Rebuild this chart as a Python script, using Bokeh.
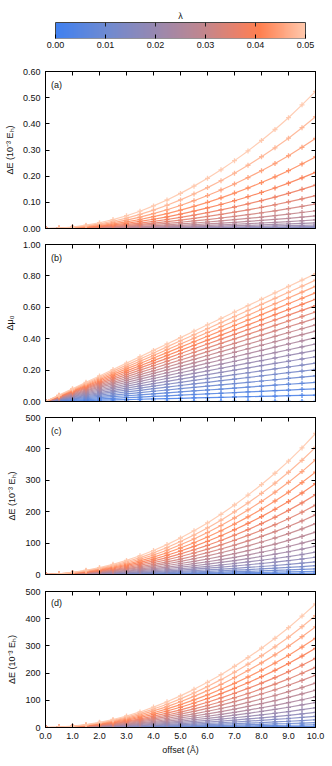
import numpy as np
from bokeh.plotting import figure
from bokeh.layouts import column
from bokeh.models import (Range1d, LinearAxis, FixedTicker, PrintfTickFormatter,
                          LinearColorMapper, Label, ColumnDataSource)
from bokeh.embed import file_html
from bokeh.resources import INLINE

# ---------------- data ----------------
lam = [0.0000, 0.0025, 0.0050, 0.0075, 0.0100, 0.0125, 0.0150, 0.0175, 0.0200, 0.0225,
       0.0250, 0.0275, 0.0300, 0.0325, 0.0350, 0.0375, 0.0400, 0.0425, 0.0450, 0.0475, 0.0500]
offset = [0.0, 0.5, 1.0, 1.5, 2.0, 2.5, 3.0, 3.5, 4.0, 4.5, 5.0,
          5.5, 6.0, 6.5, 7.0, 7.5, 8.0, 8.5, 9.0, 9.5, 10.0]

# value at offset 10 for each lambda, per panel
end_a = [0.0000, 0.0000, 0.0001, 0.0003, 0.0008, 0.0020, 0.0042, 0.0079, 0.0134, 0.0215, 0.0328,
         0.0480, 0.0679, 0.0936, 0.1258, 0.1658, 0.2146, 0.2735, 0.3440, 0.4270, 0.5240]
end_b = [0.000, 0.041, 0.081, 0.122, 0.163, 0.204, 0.244, 0.285, 0.326, 0.366, 0.407,
         0.448, 0.488, 0.529, 0.570, 0.611, 0.651, 0.692, 0.733, 0.773, 0.814]
end_c = [0.0, 1.1, 4.5, 10.1, 18.0, 28.0, 40.0, 55.0, 71.0, 90.0, 111.0,
         135.0, 162.0, 190.0, 221.0, 254.0, 289.0, 326.0, 365.0, 405.0, 449.0]
end_d = [0.0, 1.1, 4.5, 10.2, 18.2, 28.4, 41.0, 55.5, 72.5, 92.0, 113.0,
         137.0, 163.0, 192.0, 221.0, 254.0, 291.0, 328.0, 370.0, 411.0, 454.0]

# relative shape along the offset axis (fraction of the value at offset 10)
shape_a = [0.000, 0.003, 0.011, 0.024, 0.042, 0.065, 0.093, 0.126, 0.165, 0.208, 0.256,
           0.309, 0.366, 0.428, 0.495, 0.566, 0.642, 0.722, 0.808, 0.902, 1.000]
shape_b = [0.00, 0.05, 0.10, 0.15, 0.20, 0.25, 0.30, 0.35, 0.40, 0.45, 0.50,
           0.55, 0.60, 0.65, 0.70, 0.75, 0.80, 0.85, 0.90, 0.95, 1.00]
shape_c = [0.000, 0.005, 0.015, 0.030, 0.049, 0.072, 0.100, 0.133, 0.170, 0.212, 0.259,
           0.310, 0.366, 0.427, 0.493, 0.563, 0.638, 0.718, 0.804, 0.898, 1.000]
shape_d = [0.000, 0.003, 0.011, 0.024, 0.042, 0.065, 0.093, 0.126, 0.165, 0.208, 0.256,
           0.309, 0.366, 0.428, 0.495, 0.566, 0.642, 0.722, 0.808, 0.902, 1.000]

cb_ticks = [0.00, 0.01, 0.02, 0.03, 0.04, 0.05]
x_ticks = [0, 1, 2, 3, 4, 5, 6, 7, 8, 9, 10]

# ---------------- colours ----------------
anchors_t = [0.0, 0.2, 0.4, 0.6, 0.75, 0.82, 1.0]
anchors_c = [(64, 128, 240), (110, 138, 210), (152, 136, 176), (196, 134, 140),
             (240, 128, 100), (255, 128, 80), (255, 200, 172)]


def cmap(t):
    t = min(max(t, 0.0), 1.0)
    r = np.interp(t, anchors_t, [c[0] for c in anchors_c])
    g = np.interp(t, anchors_t, [c[1] for c in anchors_c])
    b = np.interp(t, anchors_t, [c[2] for c in anchors_c])
    return "#%02x%02x%02x" % (int(round(r)), int(round(g)), int(round(b)))


palette = [cmap(i / 255) for i in range(256)]
LMAX = 0.05
FONT = "Liberation Sans"
FS = "9px"
TXT = "#111111"


def style_axis(ax, ticker, fmt=None, labels=True):
    ax.ticker = FixedTicker(ticks=ticker)
    if fmt is not None:
        ax.formatter = PrintfTickFormatter(format=fmt)
    ax.axis_line_color = "black"
    ax.major_tick_line_color = "black"
    ax.major_tick_in = 4
    ax.major_tick_out = 0
    ax.minor_tick_line_color = None
    ax.major_label_text_font = FONT
    ax.major_label_text_color = TXT
    ax.axis_label_text_font = FONT
    ax.axis_label_text_font_style = "normal"
    ax.axis_label_text_font_size = FS
    ax.axis_label_text_color = TXT
    if labels:
        ax.major_label_text_font_size = FS
        ax.major_label_standoff = 5
    else:
        ax.major_label_text_font_size = "0px"
        ax.major_label_text_color = None
        ax.major_label_standoff = 0


LEFT, RIGHT = 45, 17

# ---------------- colour bar figure ----------------
pad = 0.002  # frame extends 10 px on each side of the 250 px bar
cbf = figure(frame_width=270, frame_height=26, x_range=Range1d(-pad, LMAX + pad),
             y_range=Range1d(0, 1.625), output_backend="svg", toolbar_location=None,
             min_border_left=LEFT, min_border_right=RIGHT, min_border_top=12,
             min_border_bottom=24, y_axis_location=None)
cbf.grid.visible = False
cbf.outline_line_color = None
cbf.background_fill_color = "white"
cbf.border_fill_color = "white"
mapper = LinearColorMapper(palette=palette, low=0, high=LMAX)
grad = np.linspace(0, LMAX, 256).reshape(1, -1)
cbf.image(image=[grad], x=0, y=0, dw=LMAX, dh=1, color_mapper=mapper)
cbf.quad(left=0, right=LMAX, bottom=0, top=1, fill_color=None, line_color="#444444",
         line_width=1)
cbf.segment(x0=cb_ticks[1:-1], y0=[1] * 4, x1=cb_ticks[1:-1], y1=[0.75] * 4,
            line_color="#222222", line_width=1)
style_axis(cbf.xaxis[0], cb_ticks, "%.2f")
cbf.xaxis[0].axis_line_color = None
cbf.xaxis[0].major_label_standoff = 3
cbf.add_layout(Label(x=LMAX / 2, y=1.38, text="λ", text_align="center",
                     text_baseline="middle", text_font=FONT, text_font_size=FS,
                     text_color=TXT))


# ---------------- panels ----------------
def panel(ends, shape, ymax, yticks, yfmt, ylabel, tag, frame_h, top, bottom, last):
    p = figure(frame_width=270, frame_height=frame_h, x_range=Range1d(0, 10),
               y_range=Range1d(0, ymax), output_backend="svg", toolbar_location=None,
               min_border_left=LEFT, min_border_right=RIGHT, min_border_top=top,
               min_border_bottom=bottom)
    p.grid.visible = False
    p.outline_line_color = "black"
    p.outline_line_alpha = 1.0
    p.background_fill_color = "white"
    p.border_fill_color = "white"
    for i, l in enumerate(lam):
        col = cmap(l / LMAX)
        ys = [ends[i] * s for s in shape]
        src = ColumnDataSource(dict(x=offset, y=ys))
        p.line("x", "y", source=src, line_color=col, line_width=1.2, line_alpha=0.9)
        p.scatter("x", "y", source=src, marker="cross", size=5, line_color=col,
                  line_width=1.3, line_alpha=0.9)
    style_axis(p.xaxis[0], x_ticks, "%.1f", labels=last)
    if last:
        p.xaxis[0].axis_label = "offset (Å)"
        p.xaxis[0].axis_label_standoff = 3
    style_axis(p.yaxis[0], yticks, yfmt)
    p.yaxis[0].axis_label = ylabel
    p.yaxis[0].axis_label_standoff = 5
    ta = LinearAxis()
    style_axis(ta, x_ticks, labels=False)
    p.add_layout(ta, "above")
    ra = LinearAxis()
    style_axis(ra, yticks, labels=False)
    p.add_layout(ra, "right")
    p.add_layout(Label(x=0.2, y=ymax * 0.915, text=tag, text_font=FONT, text_font_size=FS,
                       text_baseline="middle", text_color=TXT))
    return p


pa = panel(end_a, shape_a, 0.6, [0, 0.1, 0.2, 0.3, 0.4, 0.5, 0.6], "%.2f",
           "ΔE (10⁻³ Eₕ)", "(a)", 157, 9, 8, False)
pb = panel(end_b, shape_b, 1.0, [0, 0.2, 0.4, 0.6, 0.8, 1.0], "%.2f",
           "Δμ₀", "(b)", 157, 8, 8, False)
pc = panel(end_c, shape_c, 500, [0, 100, 200, 300, 400, 500], "%d",
           "ΔE (10⁻³ Eₕ)", "(c)", 157, 8, 8, False)
pd = panel(end_d, shape_d, 500, [0, 100, 200, 300, 400, 500], "%d",
           "ΔE (10⁻³ Eₕ)", "(d)", 136, 9, 29, True)

layout = column(cbf, pa, pb, pc, pd, spacing=0)
open("out.html", "w").write(file_html(layout, INLINE))
